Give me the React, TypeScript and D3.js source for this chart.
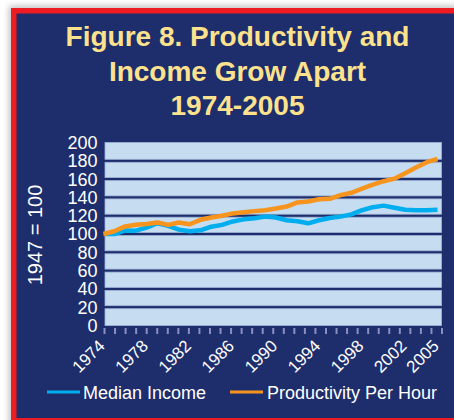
import React from "react";
import * as d3 from "d3";

const years: number[] = d3.range(1974, 2006);
const medianIncome: number[] = [
  100, 100, 103.8, 103.6, 107, 111.8, 109, 104.8, 103, 104, 108, 110, 113.7, 116, 117.3, 119,
  118, 115, 114, 111.7, 115, 117.5, 119, 121.5, 126, 129.3, 131, 128.7, 126.5, 126, 126, 126.5,
];
const productivity: number[] = [
  100, 103, 108.3, 110, 111, 112.6, 110, 112.6, 110.7, 115.5, 118, 120, 122.5, 123.8, 125, 126,
  127.8, 130, 134.5, 135.5, 138, 138.5, 142.5, 145, 149.5, 154, 157.7, 160.5, 166.5, 172.7, 178.5, 182,
];
const yTicks: number[] = [0, 20, 40, 60, 80, 100, 120, 140, 160, 180, 200];
const xLabels: number[] = [1974, 1978, 1982, 1986, 1990, 1994, 1998, 2002, 2005];
const titleLines: string[] = ["Figure 8. Productivity and", "Income Grow Apart", "1974-2005"];
const seriesNames: string[] = ["Median Income", "Productivity Per Hour"];

const NAVY = "#1e2d6c";
const BAND = "#c6dcf1";
const BLUE = "#00aeef";
const ORANGE = "#f7941d";
const TITLE = "#fde28e";
const FONT = "'Liberation Sans', Arial, Helvetica, sans-serif";

export default function App() {
  const W = 454, H = 420;
  const plotL = 105, plotR = 441.5, plotT = 142.5, plotB = 325.5;
  const x = d3.scaleLinear().domain([1974, 2005]).range([103.5, 437.5]);
  const y = d3.scaleLinear().domain([0, 200]).range([plotB, plotT]);
  const line = d3
    .line<number>()
    .x((_, i) => x(years[i]))
    .y((d) => y(d))
    .curve(d3.curveLinear);
  const tickXs = d3.range(33).map((i) => plotL - 0.5 + (i * (plotR + 1 - plotL)) / 32);

  return (
    <svg
      width={W}
      height={H}
      style={{ position: "absolute", left: 0, top: 0 }}
      fontFamily={FONT}
    >
      <defs>
        <filter id="sh" x="-10%" y="-10%" width="120%" height="120%">
          <feDropShadow dx="-2" dy="-2" stdDeviation="3" floodColor="#000" floodOpacity="0.25" />
        </filter>
      </defs>
      <rect x={0} y={0} width={W} height={H} fill="#ffffff" />
      <rect x={11} y={8} width={460} height={430} fill="#ed1c24" filter="url(#sh)" />
      <rect x={16.5} y={13.5} width={460} height={404.5} fill={NAVY} />

      {titleLines.map((t, i) => (
        <text
          key={i}
          x={237.5}
          y={46 + i * 34.5}
          textAnchor="middle"
          fill={TITLE}
          fontSize={28}
          fontWeight="bold"
        >
          {t}
        </text>
      ))}

      {yTicks.slice(0, -1).map((v, i) => {
        const top = y(v + 20) + (i === yTicks.length - 2 ? 0 : 1.5);
        const bot = y(v) - (i === 0 ? 0 : 1.5);
        return (
          <rect
            key={v}
            x={plotL}
            y={top}
            width={plotR - plotL}
            height={bot - top}
            fill={BAND}
            stroke="#9fb4d8"
            strokeWidth={0.8}
          />
        );
      })}

      {yTicks.map((v) => (
        <text key={v} x={97.5} y={y(v)} dy="0.36em" textAnchor="end" fill="#ffffff" fontSize={18}>
          {v}
        </text>
      ))}
      <text
        transform={`translate(42,235) rotate(-90)`}
        textAnchor="middle"
        fill="#ffffff"
        fontSize={20}
      >
        1947 = 100
      </text>

      {tickXs.map((tx, i) => (
        <line key={i} x1={tx} x2={tx} y1={328} y2={334} stroke="#8990c0" strokeWidth={2} />
      ))}

      {xLabels.map((yr) => (
        <text
          key={yr}
          transform={`translate(${x(yr) + 2.5},347) rotate(-45)`}
          textAnchor="end"
          fill="#ffffff"
          fontSize={17}
        >
          {yr}
        </text>
      ))}

      <path d={line(medianIncome) || ""} fill="none" stroke={BLUE} strokeWidth={4.5} strokeLinejoin="round" />
      <path d={line(productivity) || ""} fill="none" stroke={ORANGE} strokeWidth={4.5} strokeLinejoin="round" />

      <line x1={47} x2={80} y1={392} y2={392} stroke={BLUE} strokeWidth={3} />
      <text x={83} y={399} fill="#ffffff" fontSize={18}>
        {seriesNames[0]}
      </text>
      <line x1={230} x2={263} y1={392} y2={392} stroke={ORANGE} strokeWidth={3} />
      <text x={267} y={399} fill="#ffffff" fontSize={18}>
        {seriesNames[1]}
      </text>
    </svg>
  );
}
